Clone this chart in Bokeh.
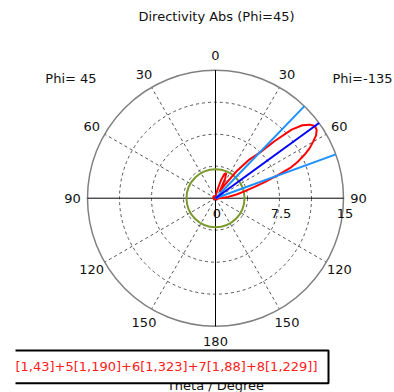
import numpy as np
from bokeh.plotting import figure
from bokeh.models import Range1d, Label
from bokeh.embed import file_html
from bokeh.resources import INLINE

# ---------------- data ----------------
title_text = "Directivity Abs (Phi=45)"
left_cut_label = "Phi= 45"
right_cut_label = "Phi=-135"
legend_text = "[1,43]+5[1,190]+6[1,323]+7[1,88]+8[1,229]]"
axis_title = "Theta / Degree"

# pattern on the Phi=-135 half (right side), theta in degrees, linear directivity
theta_right = [0, 5, 10, 14, 17, 20, 23, 26, 29, 32, 35, 38, 41, 44, 46, 48, 50, 52,
               54, 56, 58, 60, 62, 64, 66, 68, 70, 72, 74, 77, 80, 84, 88, 92, 100,
               120, 150, 180]
dir_right = [0.2, 0.3, 0.6, 1.2, 2.2, 3.0, 3.2, 2.6, 1.4, 0.9, 2.0, 4.0, 5.9, 7.3,
             9.6, 12.0, 13.3, 14.0, 14.4, 14.3, 13.9, 13.2, 12.5, 11.6, 10.6, 9.4,
             7.5, 6.0, 4.7, 3.4, 2.5, 1.5, 0.8, 0.4, 0.3, 0.2, 0.15, 0.1]
# pattern on the Phi=45 half (left side)
theta_left = [0, 20, 40, 60, 90, 120, 150, 180]
dir_left = [0.2, 0.25, 0.3, 0.3, 0.25, 0.2, 0.15, 0.1]

main_lobe_dir = 54.0
beam_edges = [44.0, 70.0]
side_lobe_level = 3.4

r_max = 15.0
ring_values = [3.75, 7.5, 11.25]
radial_labels = ["0", "7.5", "15"]
radial_label_values = [0.0, 7.5, 15.0]
spoke_angles = [30, 60, 120, 150]
angle_ticks_right = [0, 30, 60, 90, 120, 150, 180]
angle_ticks_left = [30, 60, 90, 120, 150]

# ---------------- layout helpers ----------------
W, H = 394, 392
CX, CY = 215.0, 197.7          # px of polar centre
K = r_max / 128.0              # data units per pixel
FONT = "DejaVu Sans"


def X(px):
    return (px - CX) * K


def Y(py):
    return (CY - py) * K


p = figure(width=W, height=H, output_backend="svg", toolbar_location=None,
           x_range=Range1d(X(0), X(W)), y_range=Range1d(Y(H), Y(0)),
           min_border=0, outline_line_color=None, background_fill_color="white",
           border_fill_color="white")
p.axis.visible = False
p.grid.visible = False

# dashed rings
p.circle(x=[0] * len(ring_values), y=[0] * len(ring_values), radius=ring_values,
         fill_color=None, line_color="#555555", line_width=1, line_dash="3 3")
# spokes
sa = np.radians(spoke_angles)
xs_sp = list(r_max * np.sin(sa)) + list(-r_max * np.sin(sa))
ys_sp = list(r_max * np.cos(sa)) * 2
p.segment(x0=[0] * len(xs_sp), y0=[0] * len(xs_sp), x1=xs_sp, y1=ys_sp,
          line_color="#555555", line_width=1, line_dash="3 3")
# outer circle
p.circle(x=[0], y=[0], radius=[r_max], fill_color=None, line_color="#808080",
         line_width=1.5)
# axes lines
p.segment(x0=[0, -r_max], y0=[r_max, 0], x1=[0, r_max], y1=[-r_max, 0],
          line_color="black", line_width=1)

# side lobe level circle
p.circle(x=[0], y=[0], radius=[side_lobe_level], fill_color=None,
         line_color="#7a9a2a", line_width=2)

# pattern
tr = np.radians(theta_right)
tl = np.radians(theta_left)
dr = np.array(dir_right)
dl = np.array(dir_left)
xs_pat = np.concatenate([(-dl * np.sin(tl))[::-1], dr * np.sin(tr)])
ys_pat = np.concatenate([(dl * np.cos(tl))[::-1], dr * np.cos(tr)])
p.line(xs_pat, ys_pat, line_color="#ff0000", line_width=2)

# 3 dB beam edges and main lobe direction
be = np.radians(beam_edges)
p.segment(x0=[0, 0], y0=[0, 0], x1=list(r_max * np.sin(be)), y1=list(r_max * np.cos(be)),
          line_color="#1e90ff", line_width=2)
md = np.radians(main_lobe_dir)
p.segment(x0=[0], y0=[0], x1=[r_max * np.sin(md)], y1=[r_max * np.cos(md)],
          line_color="#0000ff", line_width=2)


def add_label(x, y, text, align="center", color="#111111", size="13px"):
    p.add_layout(Label(x=x, y=y, text=text, text_align=align, text_baseline="middle",
                       text_font=FONT, text_font_size=size, text_color=color))


# axis title (mostly hidden behind legend box)
add_label(X(215), Y(385), axis_title)

# angle tick labels
r_lab = 143 * K
for a in angle_ticks_right:
    ar = np.radians(a)
    add_label(r_lab * np.sin(ar), r_lab * np.cos(ar), str(a))
for a in angle_ticks_left:
    ar = np.radians(a)
    add_label(-r_lab * np.sin(ar), r_lab * np.cos(ar), str(a))

# radial labels
for v, t in zip(radial_label_values, radial_labels):
    add_label(v + 1.5 * K, -15 * K, t)

# cut labels & title
add_label(X(70.5), Y(78), left_cut_label)
add_label(X(392), Y(78), right_cut_label, align="right")
add_label(X(216), Y(16), title_text)

# legend box (covers the axis title, as in the original)
p.quad(left=[X(15)], right=[X(328)], top=[Y(350)], bottom=[Y(382.7)],
       fill_color="white", line_color=None, level="overlay")
p.multi_line(xs=[[X(15), X(328), X(328), X(15)]],
             ys=[[Y(350), Y(350), Y(382.7), Y(382.7)]],
             line_color="black", line_width=2, level="overlay")
p.add_layout(Label(x=X(15), y=Y(366.3), text=legend_text, text_align="left",
                   text_baseline="middle", text_font=FONT, text_font_size="13px",
                   text_color="#ff2020", level="overlay"))

open("out.html", "w").write(file_html(p, INLINE))
